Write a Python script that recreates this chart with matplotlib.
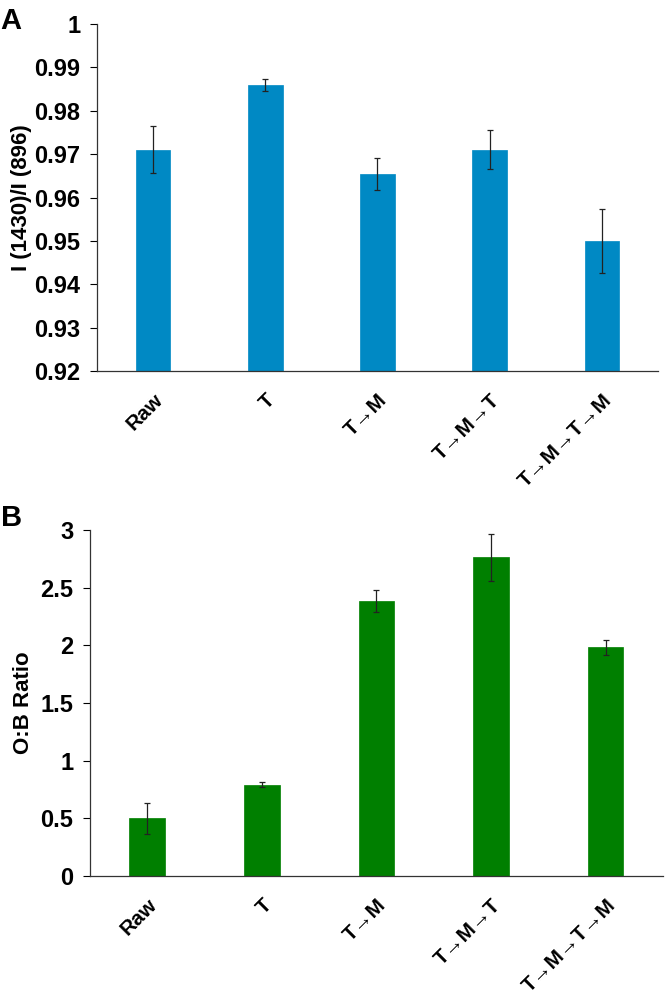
import matplotlib.pyplot as plt
import numpy as np

plt.rcParams['font.family'] = ['Liberation Sans', 'DejaVu Sans']
plt.rcParams['font.weight'] = 'bold'

# data
categories = ['Raw', 'T', 'T\u2192M', 'T\u2192M\u2192T', 'T\u2192M\u2192T\u2192M']
ratio_a = [0.971, 0.986, 0.9655, 0.971, 0.950]
err_a = [0.0054, 0.0014, 0.0037, 0.0045, 0.0073]
ratio_b = [0.50, 0.79, 2.385, 2.765, 1.985]
err_b = [0.135, 0.022, 0.095, 0.205, 0.065]

fig = plt.figure(figsize=(6.66, 10.02), dpi=100)
ax1 = fig.add_axes([0.1456, 0.6297, 0.8424, 0.3463])
ax2 = fig.add_axes([0.135, 0.1257, 0.8605, 0.3453])

x = np.arange(len(categories))


def style(ax, vals, errs, color, ylim, yticks, ylabel, fmt):
    ax.bar(x, [v - ylim[0] for v in vals], bottom=ylim[0], width=0.31,
           color=color, edgecolor=color, linewidth=0.5, zorder=2)
    ax.errorbar(x, vals, yerr=errs, fmt='none', ecolor='#222222',
                elinewidth=0.9, capsize=2.5, capthick=0.9, zorder=3)
    ax.set_xlim(-0.5, len(categories) - 0.5)
    ax.set_ylim(*ylim)
    ax.set_yticks(yticks)
    ax.set_yticklabels([fmt(t) for t in yticks], fontsize=17, fontweight='bold')
    ax.set_xticks(x)
    ax.set_xticklabels(categories, rotation=45, ha='right', va='top',
                       rotation_mode='anchor', fontsize=15, fontweight='bold')
    ax.tick_params(axis='x', length=0, pad=14)
    ax.tick_params(axis='y', length=5, width=0.8, direction='out', pad=7)
    for s in ['top', 'right']:
        ax.spines[s].set_visible(False)
    for s in ['left', 'bottom']:
        ax.spines[s].set_linewidth(0.9)
        ax.spines[s].set_color('#333333')
    ax.set_ylabel(ylabel, fontsize=16, fontweight='bold')


def fmt_a(t):
    return '1' if abs(t - 1) < 1e-9 else ('%.2f' % t)


def fmt_b(t):
    return ('%g' % t)


style(ax1, ratio_a, err_a, '#0089C4', (0.92, 1.0),
      [0.92, 0.93, 0.94, 0.95, 0.96, 0.97, 0.98, 0.99, 1.0],
      'I (1430)/I (896)', fmt_a)
style(ax2, ratio_b, err_b, '#007F00', (0, 3),
      [0, 0.5, 1, 1.5, 2, 2.5, 3], 'O:B Ratio', fmt_b)

ax1.yaxis.set_label_coords(-0.115, 0.5)
ax2.yaxis.set_label_coords(-0.097, 0.5)

fig.text(0.001, 0.993, 'A', fontsize=21, fontweight='bold', va='top', ha='left')
fig.text(0.001, 0.497, 'B', fontsize=21, fontweight='bold', va='top', ha='left')

fig.savefig('out.png', dpi=100)
